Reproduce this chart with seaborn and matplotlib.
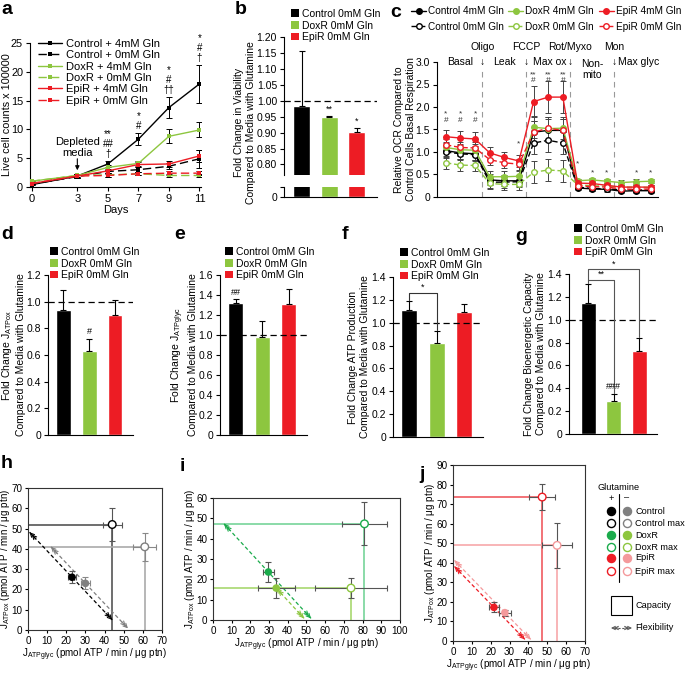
import matplotlib
matplotlib.use('Agg')
import matplotlib.pyplot as plt
import seaborn as sns
import numpy as np
import pandas as pd
from matplotlib.patches import Patch, Rectangle
from matplotlib.lines import Line2D

# ---------------- data ----------------
# panel a
days = [0, 3, 5, 7, 9, 11]
a_ctrl4 = [0.4, 1.9, 4.0, 8.3, 13.8, 17.9]
a_ctrl4_err = [0.1, 0.3, 0.5, 1.0, 1.8, 3.3]
a_ctrl0 = [0.5, 1.8, 2.7, 3.0, 3.6, 4.9]
a_ctrl0_err = [0.1, 0.3, 0.3, 0.4, 0.5, 1.6]
a_dox4 = [1.0, 2.0, 3.4, 4.1, 8.8, 9.9]
a_dox4_err = [0.1, 0.3, 0.4, 0.5, 1.2, 1.3]
a_dox0 = [1.0, 2.0, 2.1, 2.3, 2.0, 2.0]
a_dox0_err = [0.1, 0.3, 0.3, 0.3, 0.3, 0.3]
a_epi4 = [0.6, 1.9, 2.8, 3.9, 4.0, 5.4]
a_epi4_err = [0.1, 0.3, 0.3, 0.5, 0.6, 1.1]
a_epi0 = [0.6, 1.9, 2.0, 2.3, 2.4, 2.4]
a_epi0_err = [0.1, 0.3, 0.3, 0.3, 0.3, 0.4]
a_sig_days = [5, 7, 9, 11]
a_sig_text = ['**\n##\n†', '*\n#', '*\n#\n††', '*\n#\n†']

# bar panels
bar_cats = ['Control 0mM Gln', 'DoxR 0mM Gln', 'EpiR 0mM Gln']
bar_colors = ['#000000', '#8dc63f', '#ed1c24']
b_vals = [0.985, 0.948, 0.901]
b_err = [0.17, 0.004, 0.014]
b_sig = ['', '**', '*']
d_vals = [0.94, 0.63, 0.90]
d_err = [0.15, 0.09, 0.11]
d_sig = ['', '#', '']
e_vals = [1.32, 0.98, 1.31]
e_err = [0.04, 0.16, 0.15]
e_sig = ['##', '', '']
f_vals = [1.11, 0.82, 1.09]
f_err = [0.08, 0.11, 0.07]
g_vals = [1.15, 0.29, 0.73]
g_err = [0.16, 0.06, 0.11]
g_sig = ['', '###', '']

# panel c (15 measurements)
c_x = list(range(15))
c_ctrl4 = [1.03, 0.98, 0.96, 0.38, 0.36, 0.36, 1.44, 1.48, 1.48, 0.20, 0.18, 0.17, 0.13, 0.14, 0.14]
c_ctrl0 = [1.00, 0.96, 0.94, 0.33, 0.33, 0.34, 1.20, 1.26, 1.20, 0.22, 0.19, 0.18, 0.16, 0.16, 0.15]
c_dox4 = [1.10, 1.05, 1.04, 0.45, 0.45, 0.46, 1.55, 1.52, 1.53, 0.36, 0.38, 0.35, 0.32, 0.34, 0.35]
c_dox0 = [0.76, 0.71, 0.70, 0.30, 0.28, 0.28, 0.55, 0.60, 0.58, 0.27, 0.25, 0.24, 0.22, 0.22, 0.21]
c_epi4 = [1.34, 1.31, 1.29, 0.98, 0.88, 0.80, 2.12, 2.22, 2.22, 0.31, 0.30, 0.26, 0.22, 0.22, 0.22]
c_epi0 = [1.16, 1.10, 1.09, 0.83, 0.76, 0.73, 1.44, 1.53, 1.48, 0.25, 0.23, 0.22, 0.18, 0.17, 0.18]
c_err_std = [0.13, 0.13, 0.13, 0.12, 0.12, 0.12, 0.25, 0.25, 0.25, 0.05, 0.05, 0.05, 0.05, 0.05, 0.05]
c_err_epi4 = [0.15, 0.15, 0.15, 0.13, 0.13, 0.13, 0.35, 0.35, 0.35, 0.05, 0.05, 0.05, 0.05, 0.05, 0.05]
c_sig_x = [0, 1, 2, 5, 6, 7, 8, 9, 10, 11, 13, 14]
c_sig_y = [1.62, 1.62, 1.62, 1.10, 2.50, 2.50, 2.50, 0.66, 0.46, 0.46, 0.46, 0.46]
c_sig_text = ['*\n#', '*\n#', '*\n#', '*', '**\n#', '**\n#', '**\n#', '*', '*', '*', '*', '*']
c_div = [2.5, 5.5, 8.5, 11.5]
c_inj = ['Oligo', 'FCCP', 'Rot/Myxo', 'Mon']
c_phase_x = [1, 4, 7.1, 10, 13.2]
c_phase = ['Basal', 'Leak', 'Max ox', 'Non-\nmito', 'Max glyc']

# panels h, i, j : [+Gln, -Gln]
h_bx = [23, 30]; h_by = [26, 23]; h_bxe = [2, 2.5]; h_bye = [3, 3]
h_mx = [44, 61]; h_my = [52, 41]; h_mxe = [5, 6]; h_mye = [8, 7]
i_bx = [29.6, 33.8]; i_by = [23.6, 15.7]; i_bxe = [3, 10]; i_bye = [5, 5]
i_mx = [81, 73.8]; i_my = [47.3, 15.7]; i_mxe = [12, 19]; i_mye = [10.5, 5]
j_bx = [21.7, 27.5]; j_by = [17.2, 14.5]; j_bxe = [2.5, 3]; j_bye = [2.5, 1.5]
j_mx = [47.3, 55.2]; j_my = [73.6, 48.9]; j_mxe = [7, 8]; j_mye = [6.5, 11.5]

# ---------------- style ----------------
sns.set_theme(style='ticks', rc={
    'axes.linewidth': 0.8, 'xtick.major.width': 0.8, 'ytick.major.width': 0.8,
    'xtick.major.size': 3, 'ytick.major.size': 3, 'xtick.major.pad': 2, 'ytick.major.pad': 2,
    'font.size': 7.5, 'axes.labelsize': 7.5, 'xtick.labelsize': 7.5, 'ytick.labelsize': 7.5,
    'legend.fontsize': 7.5, 'axes.edgecolor': 'black', 'xtick.color': 'black', 'ytick.color': 'black',
    'text.color': 'black', 'axes.labelcolor': 'black'})
plt.rcParams['font.family'] = ['Liberation Sans', 'DejaVu Sans']
plt.rcParams['mathtext.default'] = 'regular'

W, H = 685, 675
fig = plt.figure(figsize=(6.85, 6.75), dpi=100)


def add_ax(l, t, r, b):
    return fig.add_axes([l / W, 1 - b / H, (r - l) / W, (b - t) / H])


def fig_legend(ax, handles, labels, x, y, **kw):
    opts = dict(loc='upper left', bbox_to_anchor=(x / W, 1 - y / H), bbox_transform=fig.transFigure,
                frameon=False, borderpad=0, borderaxespad=0, handletextpad=0.3, labelspacing=0.1)
    opts.update(kw)
    return ax.legend(handles, labels, **opts)


def plabel(x, y, s):
    fig.text(x / W, 1 - y / H, s, fontsize=14, fontweight='bold', va='top', ha='left')


def ylab_at(ax, px_right, ax_left, ax_width):
    ax.yaxis.set_label_coords((px_right - ax_left) / ax_width, 0.5)


# ---------------- panel a ----------------
ax = add_ax(30, 43, 201, 187)
series_a = [(a_ctrl4, a_ctrl4_err, 'black', '-', 'Control + 4mM Gln'),
            (a_ctrl0, a_ctrl0_err, 'black', (0, (6, 3)), 'Control + 0mM Gln'),
            (a_dox4, a_dox4_err, '#8dc63f', '-', 'DoxR + 4mM Gln'),
            (a_dox0, a_dox0_err, '#8dc63f', (0, (6, 3)), 'DoxR + 0mM Gln'),
            (a_epi4, a_epi4_err, '#ed1c24', '-', 'EpiR + 4mM Gln'),
            (a_epi0, a_epi0_err, '#ed1c24', (0, (6, 3)), 'EpiR + 0mM Gln')]
hs = []
for vals, errs, col, ls, lab in series_a:
    ax.errorbar(days, vals, yerr=errs, fmt='none', ecolor='black', elinewidth=0.7, capsize=2, capthick=0.7, zorder=2)
    sns.lineplot(x=days, y=vals, ax=ax, color=col, linestyle=ls, linewidth=1, marker='s', markersize=3,
                 markeredgewidth=0, zorder=3)
    hs.append(Line2D([], [], color=col, linestyle=ls, linewidth=1, marker='s', markersize=3, markeredgewidth=0))
ax.set_xlim(-0.1, 11.1)
ax.set_ylim(0, 25)
ax.set_xticks(days)
ax.set_yticks([0, 5, 10, 15, 20, 25])
ax.set_xlabel('Days', labelpad=1, fontsize=8)
ax.set_ylabel('Live cell counts x 100000', fontsize=7.8)
ylab_at(ax, 12, 30, 171)
ax.tick_params(axis='x', labelsize=8)
ax.tick_params(axis='y', labelsize=7.8)
sns.despine(ax=ax)
tops = [max(v[i] + e[i] for v, e, *_ in series_a) for i in range(len(days))]
for d, s in zip(a_sig_days, a_sig_text):
    ax.text(d, tops[days.index(d)] + 0.4, s, ha='center', va='bottom', fontsize=7, linespacing=1.0, clip_on=False)
ax.text(3, 6.9, 'Depleted\nmedia', ha='center', va='center', fontsize=8, linespacing=1.1)
ax.annotate('', xy=(3, 2.9), xytext=(3, 4.9),
            arrowprops=dict(arrowstyle='-|>', color='black', lw=0.8, mutation_scale=6, shrinkA=0, shrinkB=0))
fig_legend(ax, hs, [s[4] for s in series_a], 38, 39, handlelength=2.2, labelspacing=0.12, fontsize=8)
plabel(1, 1, 'a')


# ---------------- bar helper ----------------
def bars(ax, vals, errs, width=0.58):
    df = pd.DataFrame({'grp': bar_cats, 'val': vals})
    sns.barplot(data=df, x='grp', y='val', hue='grp', palette=bar_colors, width=width, legend=False,
                ax=ax, saturation=1, errorbar=None)
    ax.errorbar(range(3), vals, yerr=[np.zeros(3), errs], fmt='none', ecolor='black', elinewidth=0.8,
                capsize=2.5, capthick=0.8, zorder=5)
    ax.set_xlabel('')
    ax.set_ylabel('')
    ax.set_xticks([])
    sns.despine(ax=ax)


def sigs(ax, vals, errs, txt, off):
    for i, s in enumerate(txt):
        if s:
            ax.text(i, vals[i] + errs[i] + off, s, ha='center', va='bottom', fontsize=6.5)


def bar_legend(ax, x, y):
    hs = [Patch(facecolor=c, edgecolor='none') for c in bar_colors]
    fig_legend(ax, hs, bar_cats, x, y, handlelength=0.8, handleheight=0.8, labelspacing=0.15)


# ---------------- panel b (broken axis) ----------------
axb = add_ax(284, 37, 377, 175)
bars(axb, b_vals, b_err, width=0.62)
axb.set_xlim(-0.65, 2.73)
axb.set_ylim(0.767, 1.2)
axb.set_yticks(np.arange(0.80, 1.201, 0.05))
axb.set_yticklabels([f'{v:.2f}' for v in np.arange(0.80, 1.201, 0.05)])
axb.spines['bottom'].set_visible(False)
axb.tick_params(axis='x', length=0)
axb.axhline(1.0, color='black', ls=(0, (5, 3)), lw=0.9)
sigs(axb, b_vals, b_err, b_sig, 0.008)
axb.set_ylabel('Fold Change in Viability\nCompared to Media with Glutamine')
axb.yaxis.set_label_coords((256 - 284) / 93, 0.38)
axb2 = add_ax(284, 187, 377, 197)
bars(axb2, b_vals, [0, 0, 0], width=0.62)
axb2.set_xlim(-0.65, 2.73)
axb2.set_ylim(0, 0.03)
axb2.set_yticks([0, 0.03])
axb2.set_yticklabels(['0', ''])
bar_legend(axb, 291, 9)
plabel(235, 1, 'b')

# ---------------- panel c ----------------
axc = add_ax(437, 62, 658, 197)
series_c = [(c_ctrl4, c_err_std, 'black', '-', True, 'Control 4mM Gln'),
            (c_ctrl0, c_err_std, 'black', (0, (4, 2)), False, 'Control 0mM Gln'),
            (c_dox4, c_err_std, '#8dc63f', '-', True, 'DoxR 4mM Gln'),
            (c_dox0, c_err_std, '#8dc63f', (0, (4, 2)), False, 'DoxR 0mM Gln'),
            (c_epi4, c_err_epi4, '#ed1c24', '-', True, 'EpiR 4mM Gln'),
            (c_epi0, c_err_std, '#ed1c24', (0, (4, 2)), False, 'EpiR 0mM Gln')]
hs = []
for vals, errs, col, ls, filled, lab in series_c:
    axc.errorbar(c_x, vals, yerr=errs, fmt='none', ecolor='#444444', elinewidth=0.7, capsize=2, capthick=0.7, zorder=2)
    mfc = col if filled else 'white'
    sns.lineplot(x=c_x, y=vals, ax=axc, color=col, linestyle=ls, linewidth=1, marker='o', markersize=4,
                 markerfacecolor=mfc, markeredgecolor=col, markeredgewidth=1, zorder=3)
    hs.append(Line2D([], [], color=col, linestyle=ls, linewidth=1, marker='o', markersize=4,
                     markerfacecolor=mfc, markeredgecolor=col, markeredgewidth=1))
axc.set_xlim(-0.6, 14.5)
axc.set_ylim(0, 3.0)
axc.set_yticks([0, 0.5, 1.0, 1.5, 2.0, 2.5, 3.0])
axc.set_yticklabels(['0', '0.5', '1.0', '1.5', '2.0', '2.5', '3.0'])
axc.set_xticks([])
sns.despine(ax=axc)
axc.set_ylabel('Relative OCR Compared to\nControl Cells Basal Respiration')
ylab_at(axc, 416, 437, 221)
for xv in c_div:
    axc.plot([xv, xv], [0, 2.85], ls=(0, (5, 4)), color='#999999', lw=0.8, zorder=1)
for xv, t in zip(c_div, c_inj):
    axc.text(xv, 3.33, t, ha='center', va='center', fontsize=7.5, clip_on=False)
    axc.text(xv, 3.0, '↓', ha='center', va='center', fontsize=7.5, clip_on=False)
for xv, t in zip(c_phase_x, c_phase):
    if '\n' in t:
        axc.text(xv, 3.07, t, ha='center', va='top', fontsize=7.5, clip_on=False, linespacing=1.1)
    else:
        axc.text(xv, 3.0, t, ha='center', va='center', fontsize=7.5, clip_on=False)
for xv, yv, t in zip(c_sig_x, c_sig_y, c_sig_text):
    axc.text(xv, yv, t, ha='center', va='bottom', fontsize=6, linespacing=0.9, color='#333333')
fig_legend(axc, hs, [s[5] for s in series_c], 411, 6, ncol=3, handlelength=1.5, columnspacing=0.45,
           labelspacing=0.55, handletextpad=0.2, fontsize=7.2)
plabel(390, 4, 'c')

# ---------------- panel d ----------------
axd = add_ax(48, 275, 133, 435)
bars(axd, d_vals, d_err)
axd.set_xlim(-0.6, 2.7)
axd.set_ylim(0, 1.2)
axd.set_yticks([0, 0.2, 0.4, 0.6, 0.8, 1.0, 1.2])
axd.set_yticklabels(['0', '0.2', '0.4', '0.6', '0.8', '1.0', '1.2'])
axd.axhline(1.0, color='black', ls=(0, (5, 3)), lw=0.9)
sigs(axd, d_vals, d_err, d_sig, 0.02)
axd.set_ylabel('Fold Change J$_{ATPox}$\nCompared to Media with Glutamine')
ylab_at(axd, 26, 48, 85)
bar_legend(axd, 50, 247)
plabel(1, 226, 'd')

# ---------------- panel e ----------------
axe = add_ax(220, 275, 307, 435)
bars(axe, e_vals, e_err)
axe.set_xlim(-0.6, 2.7)
axe.set_ylim(0, 1.6)
axe.set_yticks([0, 0.2, 0.4, 0.6, 0.8, 1.0, 1.2, 1.4, 1.6])
axe.set_yticklabels(['0', '0.2', '0.4', '0.6', '0.8', '1.0', '1.2', '1.4', '1.6'])
axe.axhline(1.0, color='black', ls=(0, (5, 3)), lw=0.9)
sigs(axe, e_vals, e_err, e_sig, 0.02)
axe.set_ylabel('Fold Change J$_{ATPglyc}$\nCompared to Media with Glutamine')
ylab_at(axe, 198, 220, 87)
bar_legend(axe, 225, 247)
plabel(174, 226, 'e')

# ---------------- panel f ----------------
axf = add_ax(393, 277, 483, 437)
bars(axf, f_vals, f_err)
axf.set_xlim(-0.6, 2.7)
axf.set_ylim(0, 1.4)
axf.set_yticks([0, 0.2, 0.4, 0.6, 0.8, 1.0, 1.2, 1.4])
axf.set_yticklabels(['0', '0.2', '0.4', '0.6', '0.8', '1.0', '1.2', '1.4'])
axf.axhline(1.0, color='black', ls=(0, (5, 3)), lw=0.9)
top0 = f_vals[0] + f_err[0]
top1 = f_vals[1] + f_err[1]
axf.plot([0, 0, 1, 1], [top0 + 0.01, 1.26, 1.26, top1 + 0.01], color='#333333', lw=0.8)
axf.text(0.5, 1.27, '*', ha='center', va='bottom', fontsize=6.5)
axf.set_ylabel('Fold Change ATP Production\nCompared to Media with Glutamine')
ylab_at(axf, 370, 393, 90)
bar_legend(axf, 400, 248)
plabel(342, 226, 'f')

# ---------------- panel g ----------------
axg = add_ax(569, 274, 657, 434)
bars(axg, g_vals, g_err)
axg.set_xlim(-0.75, 2.7)
axg.set_ylim(0, 1.4)
axg.set_yticks([0, 0.2, 0.4, 0.6, 0.8, 1.0, 1.2, 1.4])
axg.set_yticklabels(['0', '0.2', '0.4', '0.6', '0.8', '1.0', '1.2', '1.4'])
axg.axhline(1.0, color='black', ls=(0, (5, 3)), lw=0.9)
sigs(axg, g_vals, g_err, g_sig, 0.03)
gt = [v + e for v, e in zip(g_vals, g_err)]
axg.plot([0, 0, 1, 1], [gt[0] + 0.01, 1.35, 1.35, gt[1] + 0.01], color='#555555', lw=0.8, clip_on=False)
axg.plot([0, 0, 2, 2], [1.35, 1.44, 1.44, gt[2] + 0.01], color='#555555', lw=0.8, clip_on=False)
axg.text(0.5, 1.36, '**', ha='center', va='bottom', fontsize=6.5)
axg.text(1.0, 1.45, '*', ha='center', va='bottom', fontsize=6.5)
axg.set_ylabel('Fold Change Bioenergetic Capacity\nCompared to Media with Glutamine')
ylab_at(axg, 546, 569, 88)
bar_legend(axg, 574, 224)
plabel(515, 228, 'g')


# ---------------- panels h, i, j ----------------
def flex(ax, x0, y0, x1, y1, color):
    ax.plot([x0, x1], [y0, y1], ls=(0, (3, 2)), color=color, lw=0.9, zorder=2)
    dx, dy = x1 - x0, y1 - y0
    L = np.hypot(dx, dy)
    ux, uy = dx / L, dy / L
    for (xa, ya, sgn) in [(x0, y0, 1), (x1, y1, -1)]:
        for k in (0, 1.6):
            px, py = xa + sgn * ux * k, ya + sgn * uy * k
            ax.annotate('', xy=(px, py), xytext=(px + sgn * ux * 3, py + sgn * uy * 3),
                        arrowprops=dict(arrowstyle='->', color=color, lw=0.8, shrinkA=0, shrinkB=0,
                                        mutation_scale=7), zorder=2)


def jpanel(ax, bx, by, bxe, bye, mx, my, mxe, mye, cols, lcols, ecols, xmax, ymax, ylab_right, axl, axw):
    for k in range(2):
        ax.plot([0, mx[k]], [my[k], my[k]], color=lcols[k], lw=1.2, zorder=1)
        ax.plot([mx[k], mx[k]], [0, my[k]], color=lcols[k], lw=1.2, zorder=1)
        s = bx[k] + by[k]
        xs = max(s - my[k], 0.8)
        xe = min(mx[k], s - 0.8)
        flex(ax, xs, s - xs, xe, s - xe, cols[k])
        ax.errorbar([bx[k], mx[k]], [by[k], my[k]], xerr=[bxe[k], mxe[k]], yerr=[bye[k], mye[k]],
                    fmt='none', ecolor=ecols[k], elinewidth=0.8, capsize=2, capthick=0.8, zorder=3)
    sns.scatterplot(x=bx, y=by, hue=[0, 1], palette=cols, s=30, edgecolor='none', legend=False, ax=ax, zorder=4)
    ax.scatter(mx, my, s=30, facecolor='white', edgecolors=cols, linewidths=1, zorder=4)
    ax.set_xlim(0, xmax)
    ax.set_ylim(0, ymax)
    ax.set_xticks(np.arange(0, xmax + 1, 10))
    ax.set_yticks(np.arange(0, ymax + 1, 10))
    ax.tick_params(labelsize=7.1, length=2.5)
    ax.tick_params(axis='y', pad=1.5)
    ax.tick_params(axis='x', pad=1.5)
    ax.set_xlabel('J$_{ATPglyc}$ (pmol ATP / min / μg ptn)', labelpad=0.5, fontsize=7.1)
    ax.set_ylabel('J$_{ATPox}$ (pmol ATP / min / μg ptn)', fontsize=7.1)
    ylab_at(ax, ylab_right, axl, axw)
    for sp in ax.spines.values():
        sp.set_color('#333333')


axh = add_ax(28, 488, 162, 630)
jpanel(axh, h_bx, h_by, h_bxe, h_bye, h_mx, h_my, h_mxe, h_mye,
       ['#000000', '#808080'], ['#555555', '#aaaaaa'], ['#555555', '#888888'], 70, 70, 12.5, 28, 134)
plabel(1, 455, 'h')

axi = add_ax(213, 498, 400, 620)
jpanel(axi, i_bx, i_by, i_bxe, i_bye, i_mx, i_my, i_mxe, i_mye,
       ['#1aab4b', '#8dc63f'], ['#77d49a', '#a8d870'], ['#555555', '#555555'], 100, 60, 197, 213, 187)
plabel(180, 458, 'i')

axj = add_ax(453, 465, 585, 641)
jpanel(axj, j_bx, j_by, j_bxe, j_bye, j_mx, j_my, j_mxe, j_mye,
       ['#ed1c24', '#f4999b'], ['#f05a60', '#f7a8aa'], ['#555555', '#555555'], 70, 90, 437, 453, 132)
plabel(419, 466, 'j')

# legend for h-j
axL = add_ax(590, 478, 685, 640)
axL.set_xlim(590, 685)
axL.set_ylim(640, 478)
axL.axis('off')
leg_rows = [511, 523, 535, 547, 558, 571]
leg_names = ['Control', 'Control max', 'DoxR', 'DoxR max', 'EpiR', 'EpiR max']
plus_cols = ['#000000', '#000000', '#1aab4b', '#1aab4b', '#ed1c24', '#ed1c24']
minus_cols = ['#808080', '#808080', '#8dc63f', '#8dc63f', '#f4999b', '#f4999b']
axL.text(598, 487, 'Glutamine', fontsize=6.6, va='center', ha='left')
axL.text(611, 498, '+', fontsize=6.6, va='center', ha='center')
axL.text(627, 498, '–', fontsize=6.6, va='center', ha='center')
axL.plot([619, 619], [494, 582], color='black', lw=0.8)
for r, nm, pc, mc in zip(leg_rows, leg_names, plus_cols, minus_cols):
    opn = 'max' in nm
    for xx, cc in ((611, pc), (627, mc)):
        axL.scatter([xx], [r], s=34, facecolor='white' if opn else cc, edgecolors=cc, linewidths=1)
    axL.text(635, r, nm, fontsize=6.6, va='center', ha='left')
axL.add_patch(Rectangle((611, 596), 21, 19, fill=False, edgecolor='black', lw=0.8))
axL.text(635, 605, 'Capacity', fontsize=6.6, va='center', ha='left')
axL.plot([614, 629], [628, 628], ls=(0, (2, 1.5)), color='#555555', lw=0.8)
for xa, sg in ((611, 1), (632, -1)):
    for k in (0, 3):
        axL.annotate('', xy=(xa + sg * k, 628), xytext=(xa + sg * (k + 4), 628),
                     arrowprops=dict(arrowstyle='->', color='#555555', lw=0.7, shrinkA=0, shrinkB=0,
                                     mutation_scale=6))
axL.text(635, 628, 'Flexibility', fontsize=6.6, va='center', ha='left')

fig.savefig('out.png', dpi=100)
